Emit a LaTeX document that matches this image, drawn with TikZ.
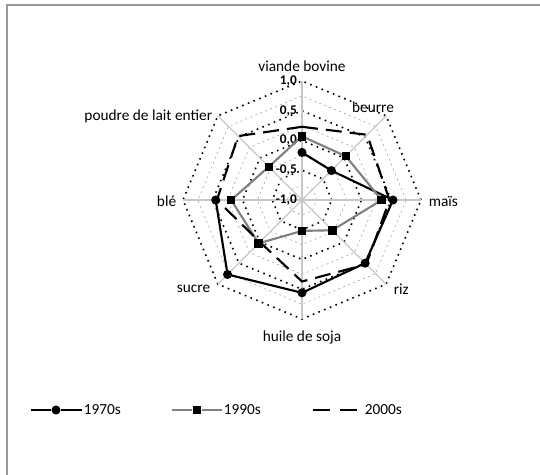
\documentclass[tikz,border=0pt]{standalone}
\usepackage{fontspec}
\setmainfont{Carlito}
\tikzset{every picture/.style={line width=0.75pt}}

\begin{document}
\begin{tikzpicture}[x=0.75pt,y=0.75pt,yscale=-1,xscale=1,
	spoke/.style={draw=black!22,line width=0.9pt},
	major/.style={draw=black,line width=1.2pt,dash pattern=on 1.2pt off 3.4pt},
	minor/.style={draw=black!40,line width=0.4pt,dash pattern=on 1.5pt off 2.5pt},
	catlbl/.style={font=\fontsize{11.5}{13}\selectfont,inner sep=1pt},
	ticklbl/.style={font=\bfseries\fontsize{10}{11}\selectfont,anchor=east,inner sep=0.5pt},
	dotmark/.style={circle,fill=black,inner sep=0pt,minimum size=6.8pt},
	sqmark/.style={rectangle,fill=black,inner sep=0pt,minimum size=6.4pt},
	serA/.style={draw=black,line width=1.6pt},
	serB/.style={draw=black!50,line width=1.6pt},
	serC/.style={draw=black,line width=1.6pt,dash pattern=on 12pt off 6pt}]
	\path[use as bounding box] (0,0) rectangle (540,475);

	%Shape: Frame
	\draw[black!40,line width=1.2pt] (7,475) -- (7,5) -- (540,5) ;

	\begin{scope}[shift={(302,200)},yscale=-1]
	%Shape: Rings
	\foreach \r in {14.875,44.625,74.375,104.125}
		\draw[minor] (0:\r) -- (45:\r) -- (90:\r) -- (135:\r) -- (180:\r) -- (225:\r) -- (270:\r) -- (315:\r) -- cycle ;
	\foreach \r in {29.75,59.5,89.25,119}
		\draw[major] (0:\r) -- (45:\r) -- (90:\r) -- (135:\r) -- (180:\r) -- (225:\r) -- (270:\r) -- (315:\r) -- cycle ;
	%Straight Lines: Spokes
	\coordinate (o) at (0,0);
	\foreach \a in {0,45,...,315}
		\draw[spoke] (o) -- (\a:119) ;

	% Text Node: scale
	\node[ticklbl] (t4) at (-4,119) {1,0};
	\node[ticklbl] (t3) at (-4,89.25) {0,5};
	\node[ticklbl] (t2) at (-4,59.5) {0,0};
	\node[ticklbl] (t1) at (-4,29.75) {-0,5};
	\node[ticklbl] (t0) at (-4,0) {-1,0};

	%Points: 1970s
	\coordinate (a1) at (90:47.6);
	\coordinate (a2) at (45:41.6);
	\coordinate (a3) at (0:91);
	\coordinate (a4) at (-45:89.3);
	\coordinate (a5) at (-90:92.8);
	\coordinate (a6) at (-135:105.3);
	\coordinate (a7) at (180:86.3);
	%Points: 1990s
	\coordinate (b1) at (90:63.7);
	\coordinate (b2) at (45:61.9);
	\coordinate (b3) at (0:79.7);
	\coordinate (b4) at (-45:42.8);
	\coordinate (b5) at (-90:30.9);
	\coordinate (b6) at (-135:61.3);
	\coordinate (b7) at (180:70.8);
	\coordinate (b8) at (135:47);
	%Points: 2000s
	\coordinate (c1) at (90:73.2);
	\coordinate (c2) at (45:92.2);
	\coordinate (c3) at (0:87.5);
	\coordinate (c4) at (-45:91);
	\coordinate (c5) at (-90:81.5);
	\coordinate (c6) at (-135:59.5);
	\coordinate (c7) at (180:85.1);
	\coordinate (c8) at (135:90.4);
	\end{scope}

	%Series lines
	\draw[serA] (a1) -- (a2) -- (a3) -- (a4) -- (a5) -- (a6) -- (a7) ;
	\draw[serB] (b1) -- (b2) -- (b3) -- (b4) -- (b5) -- (b6) -- (b7) -- (b8) -- cycle ;
	\draw[serC] (c1) -- (c2) -- (c3) -- (c4) -- (c5) -- (c6) -- (c7) -- (c8) -- cycle ;
	\foreach \p in {a1,a2,a3,a4,a5,a6,a7}
		\node[dotmark] at (\p) {};
	\foreach \p in {b1,b2,b3,b4,b5,b6,b7,b8}
		\node[sqmark] at (\p) {};

	% Text Node
	\node[catlbl] (viande) at (302,66) {viande bovine};
	% Text Node
	\node[catlbl] (beurre) at (373,107) {beurre};
	% Text Node
	\node[catlbl,anchor=west] (mais) at (427,201) {maïs};
	% Text Node
	\node[catlbl,anchor=west] (riz) at (392,289) {riz};
	% Text Node
	\node[catlbl] (huile) at (302,337) {huile de soja};
	% Text Node
	\node[catlbl,anchor=east] (sucre) at (212,289) {sucre};
	% Text Node
	\node[catlbl,anchor=east] (ble) at (178,201) {blé};
	% Text Node
	\node[catlbl,anchor=east] (poudre) at (214,116) {poudre de lait entier};

	%Legend
	\coordinate (la0) at (31,410);
	\coordinate (la1) at (82,410);
	\node[dotmark] (lam) at (56,410) {};
	\node[catlbl,anchor=west] (la) at (la1) {1970s};
	\draw[serA] (la0) -- (lam) -- (la1) ;
	\coordinate (lb0) at (172,410);
	\coordinate (lb1) at (222,410);
	\node[sqmark] (lbm) at (197,410) {};
	\node[catlbl,anchor=west] (lb) at (lb1) {1990s};
	\draw[serB] (lb0) -- (lbm) -- (lb1) ;
	\coordinate (lc0) at (313,410);
	\coordinate (lc1) at (360,410);
	\node[catlbl,anchor=west] (lc) at (363,410) {2000s};
	\draw[serC,dash pattern=on 12.75pt off 7.5pt] (lc0) -- (lc1) ;

\end{tikzpicture}
\end{document}
